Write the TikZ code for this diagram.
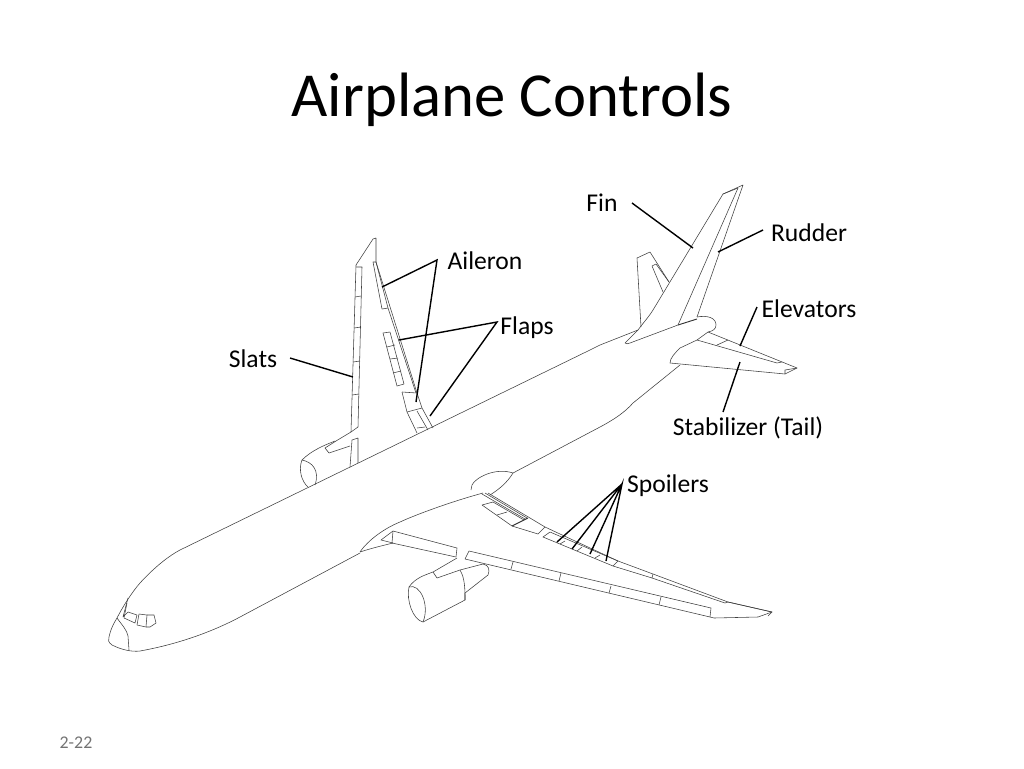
\documentclass[tikz,border=0pt]{standalone}
\usepackage{fontspec}
\setmainfont{Carlito}
\tikzset{
  plane/.style={draw=black!75,line width=0.42pt,line join=round},
  leader/.style={draw=black,line width=1.05pt},
  lab/.style={anchor=base,font=\fontsize{19.2}{22}\selectfont,text=black,inner sep=0pt},
}
\begin{document}
\begin{tikzpicture}[x=0.75pt,y=-0.75pt]
\useasboundingbox (0,0) rectangle (1024,768);
% fuselage
\draw[plane] (360,553) -- (240,617) .. controls (225,625) and (190,642) .. (140,651) .. controls (132,652) and (122,650) .. (112,645)
  .. controls (108,642) and (108,640) .. (109,637) .. controls (111,628) and (114,623) .. (117,618)
  .. controls (122,608) and (132,592) .. (140,583) .. controls (150,572) and (165,558) .. (180,550) -- (590,350) -- (600,345) -- (638,330);
\draw[plane] (513,473) -- (600,427) .. controls (615,419) and (625,412) .. (633,403) -- (680,365);
% cockpit
\draw[plane] (117,618) .. controls (122,625) and (127,630) .. (128,636) -- (129,650);
\draw[plane] (128,598) -- (123,617) -- (128,612);
\draw[plane] (127,603) -- (124,618);
\draw[plane] (128,612) -- (137,615) -- (135,623) -- (124,618);
\draw[plane] (139,614) -- (147,615) -- (146,627) -- (137,625) -- cycle;
\draw[plane] (147,615) -- (154,615) -- (156,623) -- (150,627) -- (146,627);
% far wing
\draw[plane] (350,467) -- (352,440) (351,432) -- (356,265) -- (373,239) -- (376,238) -- (376,262);
\draw[plane] (351,432) -- (358,427) -- (362,267) -- (356,267);
\draw[plane] (355,297) -- (361,296) (354,328) -- (361,327) (353,362) -- (360,361) (352,395) -- (359,394);
\draw[plane] (352,440) -- (358,438) -- (358,463);
\draw[plane] (373,262) -- (376,262) -- (388,308) -- (382,309) -- cycle;
\draw[plane] (376,262) -- (417,393) -- (422,408) -- (433,428);
\draw[plane] (388,308) -- (416,393);
\draw[plane] (402,392) -- (417,393);
\draw[plane] (402,392) -- (407,412) -- (417,433);
\draw[plane] (383,333) -- (390,332) -- (404,384) -- (397,386) -- cycle;
\draw[plane] (387,347) -- (395,345) (390,359) -- (398,358) (393,373) -- (401,371);
\draw[plane] (407,412) -- (422,408) (417,411) -- (428,430) (417,428) -- (425,427);
% far engine
\draw[plane] (351,432) -- (336,441) -- (325,448) -- (329,453) -- (350,446);
\draw[plane] (302,460) .. controls (312,450) and (325,445) .. (335,441);
\draw[plane] (302,460) .. controls (298,470) and (302,482) .. (308,487);
\draw[plane] (302,460) .. controls (312,462) and (320,470) .. (315,485);
% near wing
\draw[plane] (360,552) .. controls (368,540) and (385,528) .. (400,522) .. controls (415,515) and (450,502) .. (483,493);
\draw[plane] (360,552) .. controls (372,548) and (385,545) .. (393,543);
\draw[plane] (393,531) -- (381,540) -- (393,543);
\draw[plane] (393,531) -- (392,543) -- (456,557) -- (457,548) -- cycle;
\draw[plane] (469,551) -- (465,559) -- (710,617) -- (711,608) -- cycle;
\draw[plane] (513,562) -- (511,569) (561,573) -- (559,581) (611,586) -- (609,593) (661,597) -- (659,605);
\draw[plane] (710,617) -- (714,618) -- (758,617) -- (772,612) -- (728,602);
\draw[plane] (772,612) -- (768,616);
% wing/body fairing
\draw[plane] (513,473) .. controls (495,467) and (475,478) .. (472,485) -- (471,490);
\draw[plane] (513,473) .. controls (507,483) and (498,490) .. (490,495);
% near flaps, spoilers, aileron
\draw[plane] (482,494) -- (525,519) (485,493) -- (527,518) (488,493) -- (530,518);
\draw[plane] (482,505) -- (512,526) -- (538,534) -- (545,527) -- (530,518);
\draw[plane] (482,505) -- (493,502) -- (524,520);
\draw[plane] (497,515) -- (507,512);
\draw[line width=0.7pt,draw=black!80] (512,526) -- (528,518);
\draw[plane] (545,527) -- (618,561) -- (653,574) -- (728,602) -- (772,612);
\draw[plane] (550,532) -- (618,561) -- (613,566) -- (543,537) -- cycle;
\draw[plane] (560,544) -- (565,541) (577,551) -- (582,547) (595,558) -- (600,555);
\draw[plane] (613,566) -- (652,578) -- (653,574);
\draw[plane] (652,578) -- (725,603) -- (728,602);
% near engine
\draw[plane] (409,587) .. controls (415,578) and (425,575) .. (433,572) -- (457,558);
\draw[plane] (433,572) -- (437,578) -- (460,570) -- (483,564);
\draw[plane] (483,564) .. controls (489,565) and (490,570) .. (488,575) -- (465,593);
\draw[plane] (460,570) .. controls (465,578) and (465,590) .. (465,600);
\draw[plane] (465,593) -- (465,600) -- (423,622);
\draw[plane] (409,587) .. controls (406,600) and (413,620) .. (423,622);
\draw[plane] (409,587) .. controls (420,583) and (430,605) .. (423,622);
% fin
\draw[plane] (625,343) -- (638,330) .. controls (643,323) and (648,318) .. (653,310) -- (723,194) -- (743,185) -- (697,317);
\draw[plane] (625,343) .. controls (626,344) and (628,344) .. (630,343) -- (678,325);
\draw[line width=0.7pt,draw=black!80] (678,325) -- (697,319);
\draw[plane] (738,188) -- (678,325);
\draw[plane] (723,194) -- (738,188);
% far stabilizer
\draw[plane] (641,327) -- (637,258) -- (650,252) -- (669,282);
\draw[plane] (663,292) -- (652,266) -- (656,264) -- (669,282);
% near stabilizer
\draw[plane] (697,317) .. controls (708,315) and (716,318) .. (716,325) .. controls (716,329) and (713,331) .. (708,332);
\draw[plane] (708,332) -- (697,340) -- (680,348) .. controls (675,353) and (670,358) .. (670,363) -- (785,374) -- (797,368) -- (708,332);
\draw[plane] (697,340) -- (777,363) -- (782,362);
\draw[plane] (717,345) -- (728,340);
\draw[plane] (785,374) -- (785,370) -- (797,368);
% labels
\node[anchor=base,font=\fontsize{47}{56}\selectfont,text=black,inner sep=0pt] (title) at (512,116) {Airplane Controls};
\node[lab] (fin) at (602,211) {Fin};
\node[lab] (rudder) at (809,241) {Rudder};
\node[lab] (aileron) at (485,269) {Aileron};
\node[lab] (flaps) at (527,334) {Flaps};
\node[lab] (slats) at (253,367) {Slats};
\node[lab] (elevators) at (809,317) {Elevators};
\node[lab] (stab) at (748,435) {Stabilizer (Tail)};
\node[lab] (spoilers) at (668,492) {Spoilers};
\node[anchor=base,font=\fontsize{13.4}{15}\selectfont,text=black!55,inner sep=0pt] (page) at (76,748) {2-22};
% leader ends
\coordinate (finS) at (632,203); \coordinate (finE) at (693,248);
\coordinate (rudS) at (763,230); \coordinate (rudE) at (718,252);
\coordinate (ailH) at (437,260); \coordinate (ailA) at (382,287); \coordinate (ailB) at (416,402);
\coordinate (flpH) at (497,322); \coordinate (flpA) at (399,340); \coordinate (flpB) at (430,416);
\coordinate (slaS) at (290,358); \coordinate (slaE) at (353,377);
\coordinate (eleS) at (757,307); \coordinate (eleE) at (740,346);
\coordinate (staS) at (723,412); \coordinate (staE) at (740,362);
\coordinate (spoH) at (622,484); \coordinate (spoA) at (557,542); \coordinate (spoB) at (572,549); \coordinate (spoC) at (590,554); \coordinate (spoD) at (606,561);
\draw[leader] (finS) -- (finE);
\draw[leader] (rudS) -- (rudE);
\draw[leader] (ailA) -- (ailH) -- (ailB);
\draw[leader] (flpA) -- (flpH) -- (flpB);
\draw[leader] (slaS) -- (slaE);
\draw[leader] (eleS) -- (eleE);
\draw[leader] (staS) -- (staE);
\draw[leader] (spoA) -- (spoH) -- (spoB) (spoC) -- (spoH) -- (spoD);
\end{tikzpicture}
\end{document}
